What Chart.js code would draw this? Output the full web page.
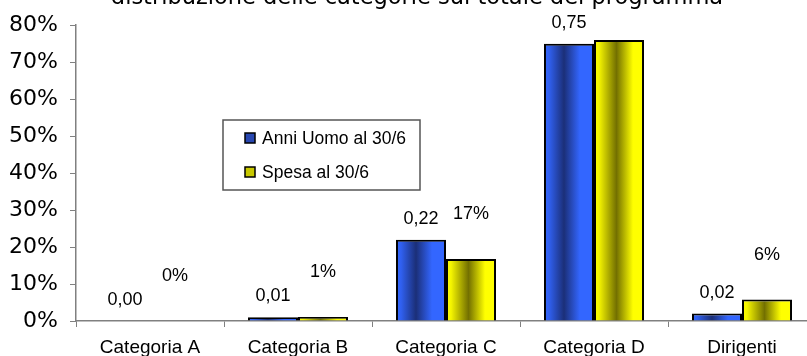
<!DOCTYPE html>
<html>
<head>
<meta charset="utf-8">
<script src="https://cdn.jsdelivr.net/npm/chart.js@4.4.1/dist/chart.umd.min.js"></script>
<style>
  html, body { margin: 0; padding: 0; background: #ffffff; overflow: hidden; }
  #wrap { width: 816px; height: 356px; }
</style>
</head>
<body>
<div id="wrap"><canvas id="chart" width="816" height="356"></canvas></div>
<script>
// --- Data ---
const chartTitle = 'distribuzione delle categorie sul totale del programma';
const categories = ['Categoria A', 'Categoria B', 'Categoria C', 'Categoria D', 'Dirigenti'];
const seriesNames = ['Anni Uomo al 30/6', 'Spesa al 30/6'];
const anniUomo = [0.0, 0.01, 0.22, 0.75, 0.02];
const spesa = [0.0, 0.011, 0.168, 0.76, 0.058];
const yMax = 0.8;
const yStep = 0.1;

// --- Styling ---
const CAT_PCT = 0.676;
const BLUE_STOPS = [[0, '#3366ff'], [0.1, '#3060f0'], [0.4, '#1b2f78'], [0.72, '#3366ff'], [1, '#3366ff']];
const YELLOW_STOPS = [[0, '#ffff00'], [0.1, '#f5f500'], [0.45, '#737000'], [0.78, '#ffff00'], [1, '#ffff00']];
const LABEL_FONT = '18px "Liberation Sans", Arial, sans-serif';

// gradient per bar, positioned from the category scale
function barGradient(c, stops) {
    const chart = c.chart;
    const area = chart.chartArea;
    if (!area || c.type !== 'data') return stops[0][1];
    const xs = chart.scales.x;
    const cat = (area.right - area.left) / categories.length;
    const bw = cat * CAT_PCT / 2;
    const center = xs.getPixelForValue(c.dataIndex);
    const left = center - bw + c.datasetIndex * bw;
    const g = chart.ctx.createLinearGradient(left, 0, left + bw, 0);
    stops.forEach(s => g.addColorStop(s[0], s[1]));
    return g;
}

// value labels, title and the boxed legend
const extras = {
    id: 'extras',
    afterDatasetsDraw(chart) {
        const ctx = chart.ctx;
        ctx.save();
        ctx.font = LABEL_FONT;
        ctx.fillStyle = '#000000';
        ctx.textAlign = 'center';
        ctx.textBaseline = 'middle';
        chart.getDatasetMeta(0).data.forEach((bar, i) => {
            ctx.fillText(anniUomo[i].toFixed(2).replace('.', ','), bar.x, bar.y - 21);
        });
        chart.getDatasetMeta(1).data.forEach((bar, i) => {
            ctx.fillText(Math.round(spesa[i] * 100) + '%', bar.x, bar.y - 45);
        });
        ctx.restore();
    },
    afterDraw(chart) {
        const ctx = chart.ctx;
        ctx.save();
        // title (cut off at the top, as in the original)
        ctx.font = '22.5px "DejaVu Sans", Verdana, sans-serif';
        ctx.fillStyle = '#000000';
        ctx.textAlign = 'center';
        ctx.textBaseline = 'alphabetic';
        ctx.fillText(chartTitle, 417, 4);

        // legend box
        ctx.strokeStyle = '#555555';
        ctx.lineWidth = 1.5;
        ctx.fillStyle = '#ffffff';
        ctx.fillRect(223, 120, 197, 70);
        ctx.strokeRect(223, 120, 197, 70);
        const sw = [['#2847b0', '#000000'], ['#c8c800', '#000000']];
        const rows = [138, 172];
        ctx.font = '17.5px "Liberation Sans", Arial, sans-serif';
        ctx.textAlign = 'left';
        ctx.textBaseline = 'middle';
        rows.forEach((y, i) => {
            ctx.fillStyle = sw[i][0];
            ctx.fillRect(245, y - 5, 10, 10);
            ctx.strokeStyle = sw[i][1];
            ctx.lineWidth = 1.5;
            ctx.strokeRect(245, y - 5, 10, 10);
            ctx.fillStyle = '#000000';
            ctx.fillText(seriesNames[i], 262, y + 1);
        });
        ctx.restore();
    }
};

new Chart(document.getElementById('chart'), {
    type: 'bar',
    data: {
        labels: categories,
        datasets: [
            {
                label: seriesNames[0],
                data: anniUomo,
                backgroundColor: (c) => barGradient(c, BLUE_STOPS),
                borderColor: '#000000',
                borderWidth: 2,
                borderSkipped: 'bottom'
            },
            {
                label: seriesNames[1],
                data: spesa,
                backgroundColor: (c) => barGradient(c, YELLOW_STOPS),
                borderColor: '#000000',
                borderWidth: 2,
                borderSkipped: 'bottom'
            }
        ]
    },
    options: {
        responsive: false,
        animation: false,
        layout: { padding: { top: 20, left: 0, right: 0, bottom: 0 } },
        datasets: { bar: { categoryPercentage: CAT_PCT, barPercentage: 1.0 } },
        plugins: {
            legend: { display: false },
            title: { display: false },
            tooltip: { enabled: false }
        },
        scales: {
            x: {
                offset: true,
                grid: {
                    offset: true,
                    drawOnChartArea: false,
                    drawTicks: true,
                    tickLength: 6,
                    color: '#808080'
                },
                border: { color: '#808080', width: 1.5 },
                ticks: {
                    color: '#000000',
                    font: { family: '"Liberation Sans", Arial, sans-serif', size: 19 },
                    padding: 9,
                    maxRotation: 0
                },
                afterFit: (s) => { s.height = 35; }
            },
            y: {
                min: 0,
                max: yMax,
                grid: {
                    drawOnChartArea: false,
                    drawTicks: true,
                    tickLength: 6,
                    color: '#808080'
                },
                border: { color: '#808080', width: 1.5 },
                ticks: {
                    stepSize: yStep,
                    color: '#000000',
                    padding: 12,
                    font: { family: '"DejaVu Sans", Verdana, sans-serif', size: 22 },
                    callback: (v) => Math.round(v * 100) + '%'
                },
                afterFit: (s) => { s.width = 76; }
            }
        }
    },
    plugins: [extras]
});
</script>
</body>
</html>
